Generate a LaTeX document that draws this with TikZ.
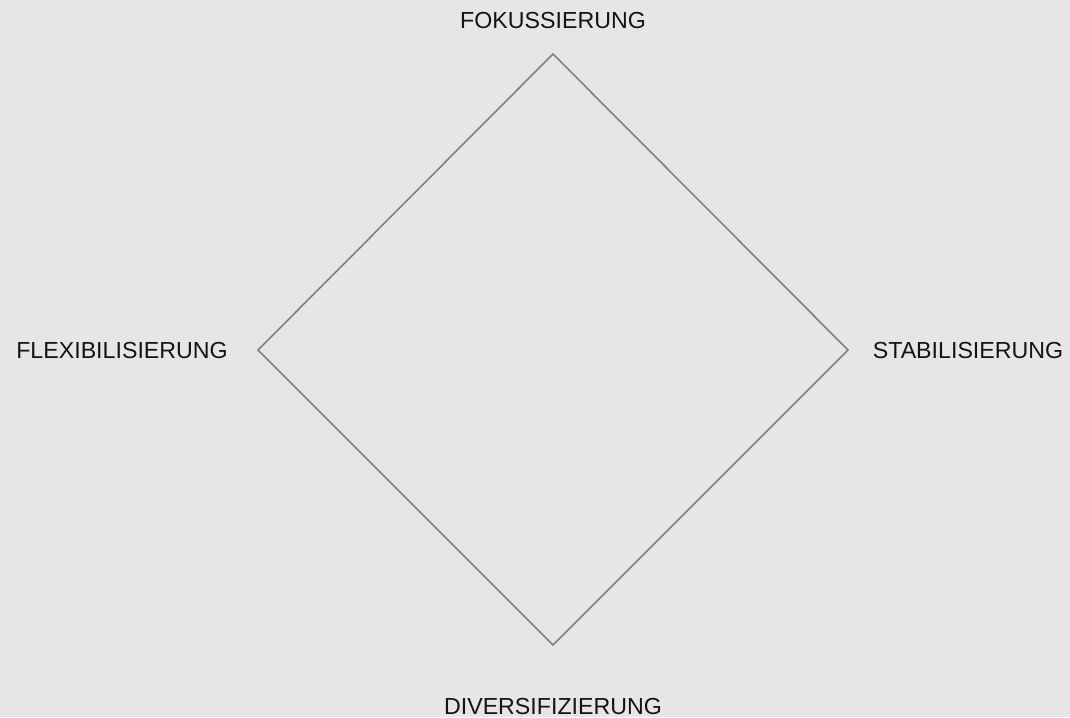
\documentclass[tikz,border=0pt]{standalone}
\usepackage{fontspec}
\setmainfont{Liberation Sans}
\definecolor{bggray}{HTML}{E6E6E6}
\definecolor{linegray}{HTML}{808080}
\definecolor{textblack}{HTML}{141414}
\begin{document}
\begin{tikzpicture}[x=1pt, y=-1pt,
    pole/.style={anchor=base, inner sep=0pt, text=textblack, font=\fontsize{23.2}{28}\selectfont}]
        \fill[bggray] (0, 0) rectangle (1070, 717);
        \useasboundingbox (0, 0) rectangle (1070, 717);
        \coordinate (top) at (553, 54);
        \coordinate (right) at (848, 350);
        \coordinate (bottom) at (553, 645);
        \coordinate (left) at (258, 350);
        \draw [linegray, line width=1.6pt, line join=miter] (top) -- (right) -- (bottom) -- (left) -- cycle;
        \node [pole] (fok) at (553, 29) {FOKUSSIERUNG};
        \node [pole] (flex) at (122, 358) {FLEXIBILISIERUNG};
        \node [pole] (stab) at (968, 358) {STABILISIERUNG};
        \node [pole] (div) at (553, 714) {DIVERSIFIZIERUNG};
    \end{tikzpicture}
\end{document}
